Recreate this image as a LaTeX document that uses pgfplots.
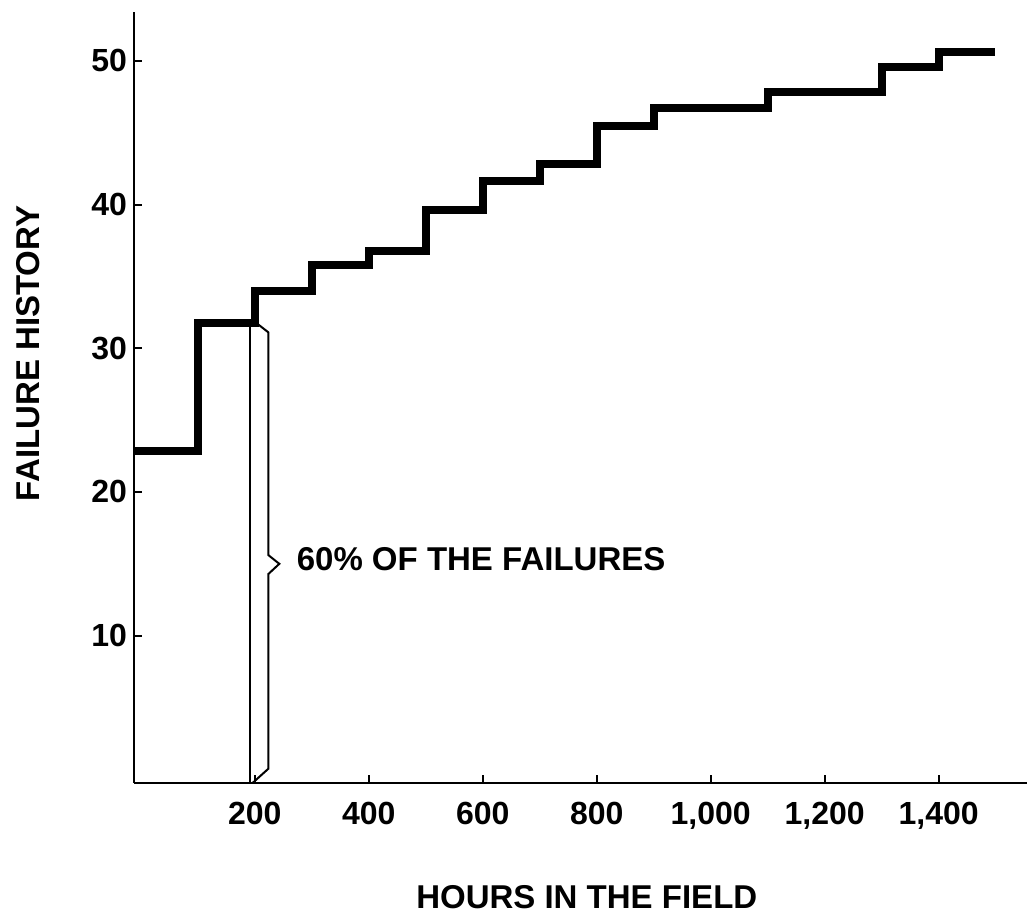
\documentclass[border=0pt]{standalone}
\usepackage{fontspec}
\setmainfont{Liberation Sans}
\usepackage{pgfplots}
\pgfplotsset{compat=1.18}
\begin{document}
\begin{tikzpicture}[x=1pt,y=1pt]
\path[use as bounding box] (0,0) rectangle (514.5,457);
\begin{axis}[
  at={(67pt,65.5pt)}, anchor=south west,
  width=446.5pt, height=385.5pt, scale only axis,
  xmin=-12, xmax=1555, ymin=-0.25, ymax=53.4,
  axis lines=left,
  axis line style={line width=1.4pt,-},
  tick align=inside,
  major tick length=4pt,
  tick style={line width=1pt,black},
  xtick={200,400,600,800,1000,1200,1400},
  xticklabels={200,400,600,800,{1,000},{1,200},{1,400}},
  ytick={10,20,30,40,50},
  yticklabels={10,20,30,40,50},
  tick label style={font=\fontsize{16}{18}\selectfont\bfseries},
  xticklabel style={yshift=-6pt},
  xlabel={HOURS IN THE FIELD},
  ylabel={FAILURE HISTORY},
  label style={font=\fontsize{16.5}{18}\selectfont\bfseries},
  xlabel style={at={(axis description cs:0.507,-0.148)}, anchor=center},
  ylabel style={at={(axis description cs:-0.118,0.557)}, anchor=center},
  clip=false,
]
\addplot[const plot, line width=4pt, line join=miter, black] coordinates {
(-12,22.85) (100,31.75) (200,34.0) (300,35.8) (400,36.8) (500,39.6) (600,41.65) (700,42.85) (800,45.5) (900,46.75) (1100,47.8) (1300,49.6) (1400,50.65) (1498,50.65)
};
\draw[line width=1pt, line join=miter] (axis cs:191,-0.25) -- (axis cs:191,31.75);
\draw[line width=1pt, line join=miter] (axis cs:196,-0.25) -- (axis cs:224,0.75) -- (axis cs:224,14.3) -- (axis cs:243,15.0) -- (axis cs:224,15.6) -- (axis cs:224,31.1) -- (axis cs:203,31.75);
\node[anchor=west, font=\fontsize{16.5}{18}\selectfont\bfseries, inner sep=0pt] at (axis cs:273,15.3) {60\% OF THE FAILURES};
\end{axis}
\end{tikzpicture}
\end{document}
